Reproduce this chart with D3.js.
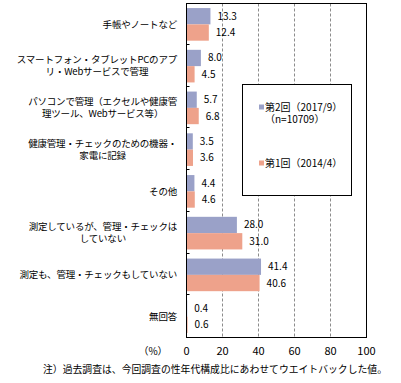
<!DOCTYPE html>
<html>
<head>
<meta charset="utf-8">
<script src="https://cdn.jsdelivr.net/npm/d3@7"></script>
<style>
  body { margin: 0; background: #fff; }
  text { font-family: "Noto Sans CJK JP", sans-serif; fill: #000; }
</style>
</head>
<body>
<div id="chart"></div>
<script>
// categories (each label may wrap on several lines)
var categories = [
  ['手帳やノートなど'],
  ['スマートフォン・タブレットPCのアプ', 'リ・Webサービスで管理'],
  ['パソコンで管理（エクセルや健康管', '理ツール、Webサービス等）'],
  ['健康管理・チェックのための機器・', '家電に記録'],
  ['その他'],
  ['測定しているが、管理・チェックは', 'していない'],
  ['測定も、管理・チェックもしていない'],
  ['無回答']
];
var round2 = [13.3, 8.0, 5.7, 3.5, 4.4, 28.0, 41.4, 0.4];   // 第2回 (2017/9)
var round1 = [12.4, 4.5, 6.8, 3.6, 4.6, 31.0, 40.6, 0.6];   // 第1回 (2014/4)
var seriesNames = ['第2回（2017/9）', '第1回（2014/4）'];
var xTicks = [0, 20, 40, 60, 80, 100];

var w = 401, h = 383;
var plotLeft = 186.5, plotRight = 366.5, plotTop = 3.5, plotBottom = 337.5;
var colors = ['#9aa1c8', '#eea28b'];

var svg = d3.select('#chart').append('svg')
  .attr('width', w)
  .attr('height', h);

var keys = categories.map(function(d, i) { return i; });
var x = d3.scaleLinear().domain([0, 100]).range([plotLeft, plotRight]);
var y = d3.scaleBand().domain(keys).range([plotTop, plotBottom]);
var ySub = d3.scaleBand().domain([0, 1]).range([0, y.bandwidth()]).paddingOuter(0.28);

// dashed grid lines
svg.append('g').selectAll('line')
  .data(xTicks.slice(1, -1))
  .enter().append('line')
  .attr('x1', function(d) { return x(d); })
  .attr('x2', function(d) { return x(d); })
  .attr('y1', plotTop).attr('y2', plotBottom)
  .attr('stroke', '#8c8c8c')
  .attr('stroke-dasharray', '3,2');

// bars
var rows = keys.map(function(i) { return [round2[i], round1[i]]; });
var gRows = svg.append('g').selectAll('g')
  .data(rows)
  .enter().append('g')
  .attr('transform', function(d, i) { return 'translate(0,' + y(i) + ')'; });

gRows.selectAll('rect')
  .data(function(d) { return d; })
  .enter().append('rect')
  .attr('x', x(0))
  .attr('y', function(d, j) { return ySub(j); })
  .attr('width', function(d) { return x(d) - x(0); })
  .attr('height', ySub.bandwidth())
  .attr('fill', function(d, j) { return colors[j]; });

gRows.selectAll('text')
  .data(function(d) { return d; })
  .enter().append('text')
  .attr('x', function(d) { return x(d) + 7; })
  .attr('y', function(d, j) { return ySub(j) + ySub.bandwidth() / 2; })
  .attr('dy', '0.35em')
  .style('font-size', '10px')
  .text(function(d) { return d.toFixed(1); });

// frame
svg.append('rect')
  .attr('x', plotLeft).attr('y', plotTop)
  .attr('width', plotRight - plotLeft).attr('height', plotBottom - plotTop)
  .attr('fill', 'none').attr('stroke', '#000');

// small inward ticks between categories
svg.append('g').selectAll('line')
  .data(keys.slice(1))
  .enter().append('line')
  .attr('x1', plotLeft).attr('x2', plotLeft + 3)
  .attr('y1', function(d) { return Math.round(y(d) - 1.5) + 0.5; })
  .attr('y2', function(d) { return Math.round(y(d) - 1.5) + 0.5; })
  .attr('stroke', '#000');

// x axis labels
svg.append('g').selectAll('text')
  .data(xTicks)
  .enter().append('text')
  .attr('x', function(d) { return x(d); })
  .attr('y', 355)
  .attr('text-anchor', 'middle')
  .style('font-size', '11px')
  .text(function(d) { return d; });

svg.append('text')
  .attr('x', 153).attr('y', 355)
  .attr('text-anchor', 'middle')
  .style('font-size', '10px')
  .text('（%）');

// category labels: block right-aligned, lines centred inside the block
var gLabels = svg.append('g').selectAll('g')
  .data(categories)
  .enter().append('g');

gLabels.each(function(lines, i) {
  var g = d3.select(this);
  var lh = 12;
  var cy = y(i) + y.bandwidth() / 2 - (lines.length - 1) * lh / 2;
  var texts = g.selectAll('text')
    .data(lines)
    .enter().append('text')
    .attr('y', function(d, k) { return cy + k * lh; })
    .attr('dy', '0.35em')
    .attr('text-anchor', 'middle')
    .style('font-size', '9.5px')
    .style('letter-spacing', '-0.2px')
    .text(function(d) { return d; });
  var maxW = d3.max(texts.nodes(), function(n) { return n.getComputedTextLength(); });
  texts.attr('x', 177 - maxW / 2);
});

// legend
var legend = svg.append('g');
legend.append('rect')
  .attr('x', 242.5).attr('y', 84.5)
  .attr('width', 109).attr('height', 111)
  .attr('fill', '#fff').attr('stroke', '#000');

var legendRows = [
  { name: seriesNames[0], sub: '（n=10709）', y: 107 },
  { name: seriesNames[1], sub: null, y: 163 }
];
legendRows.forEach(function(d, j) {
  legend.append('rect')
    .attr('x', 259).attr('y', d.y - 2.5)
    .attr('width', 5).attr('height', 5)
    .attr('fill', colors[j]);
  legend.append('text')
    .attr('x', 265).attr('y', d.y)
    .attr('dy', '0.35em')
    .style('font-size', '10px')
    .text(d.name);
  if (d.sub) {
    legend.append('text')
      .attr('x', 265).attr('y', d.y + 12.5)
      .attr('dy', '0.35em')
      .style('font-size', '10px')
      .text(d.sub);
  }
});

// note
svg.append('text')
  .attr('x', 43).attr('y', 373)
  .attr('textLength', 344)
  .attr('lengthAdjust', 'spacingAndGlyphs')
  .style('font-size', '10px')
  .text('注）過去調査は、今回調査の性年代構成比にあわせてウエイトバックした値。');
</script>
</body>
</html>
